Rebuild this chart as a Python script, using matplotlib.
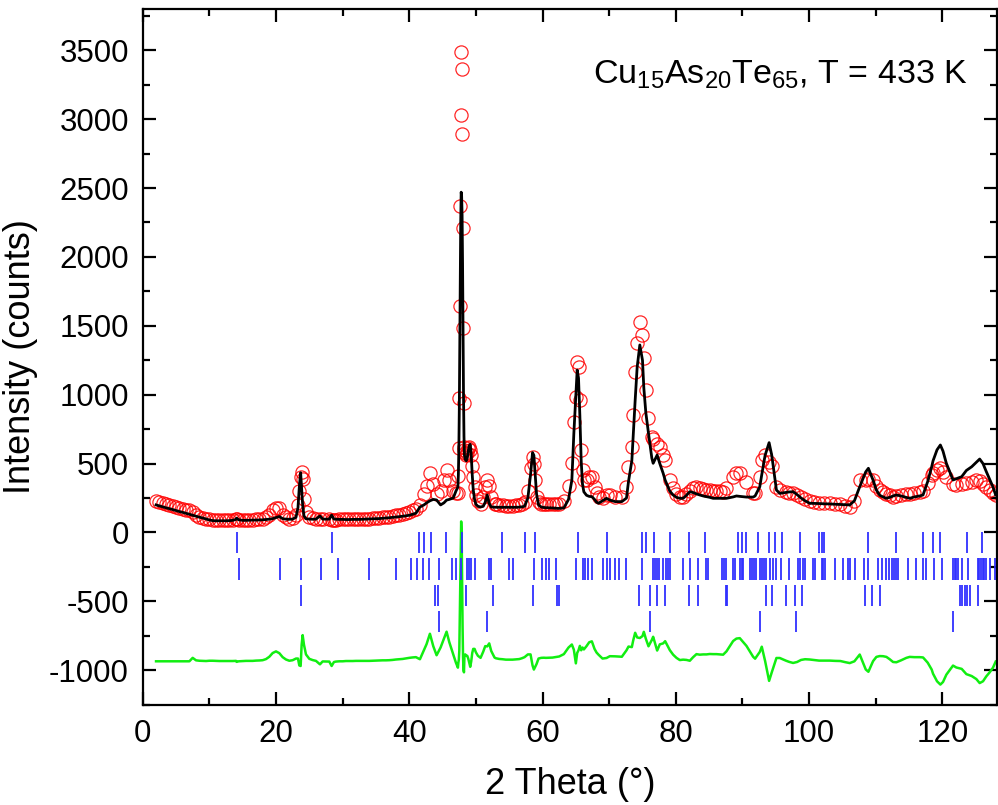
import numpy as np
import matplotlib
matplotlib.use("Agg")
import matplotlib.pyplot as plt
from matplotlib.ticker import MultipleLocator

plt.rcParams["font.family"] = ["Liberation Sans", "DejaVu Sans"]
plt.rcParams["mathtext.default"] = "regular"
plt.rcParams["axes.unicode_minus"] = False

# 2 theta (deg), observed counts, calculated counts
tth = [2.0, 2.5, 3.0, 3.5, 4.0, 4.5, 5.0, 5.5, 6.0, 6.5, 7.0, 7.5, 8.0, 8.5, 9.0, 9.5,
       10.0, 10.5, 11.0, 11.5, 12.0, 12.5, 13.0, 13.5, 14.0, 14.1, 14.4, 15.0, 15.5, 16.0,
       16.5, 17.0, 17.5, 18.0, 18.5, 19.0, 19.5, 20.0, 20.5, 21.0, 21.5, 22.0, 22.5, 23.0,
       23.3, 23.5, 23.7, 23.85, 24.0, 24.2, 24.5, 25.0, 25.5, 26.0, 26.6, 27.0, 28.0, 28.35,
       28.7, 29.0, 29.5, 30.0, 30.5, 31.0, 31.5, 32.0, 32.5, 33.0, 33.5, 34.0, 34.5, 35.0,
       35.5, 36.0, 36.5, 37.0, 37.5, 38.0, 38.5, 39.0, 39.5, 40.0, 40.5, 41.0, 41.6, 42.2,
       42.6, 43.1, 43.6, 44.1, 44.7, 45.2, 45.6, 46.0, 46.6, 47.0, 47.3, 47.37, 47.44, 47.51,
       47.58, 47.65, 47.72, 47.79, 47.86, 47.93, 48.0, 48.07, 48.14, 48.21, 48.28, 48.4,
       48.55, 48.7, 48.85, 49.0, 49.15, 49.3, 49.45, 49.6, 49.8, 50.0, 50.3, 50.7, 51.1,
       51.4, 51.7, 52.0, 52.3, 52.8, 53.0, 53.5, 54.0, 54.5, 55.0, 55.5, 56.0, 56.5, 56.9,
       57.3, 57.8, 58.2, 58.5, 58.7, 58.9, 59.1, 59.4, 59.8, 60.2, 60.5, 61.0, 61.5, 62.0,
       62.5, 63.2, 63.9, 64.4, 64.7, 65.0, 65.2, 65.4, 65.6, 65.8, 66.0, 66.2, 66.6, 67.0,
       67.4, 67.8, 68.1, 68.4, 69.0, 69.6, 70.1, 70.9, 71.9, 72.6, 72.9, 73.4, 73.6, 73.9,
       74.2, 74.6, 75.0, 75.2, 75.5, 75.9, 76.4, 76.6, 77.2, 77.6, 78.1, 78.4, 79.1, 79.6,
       80.1, 80.6, 81.1, 81.6, 82.1, 82.6, 83.1, 83.6, 84.1, 84.6, 85.1, 85.6, 86.1, 86.6,
       87.1, 87.6, 88.6, 89.1, 89.6, 90.6, 91.6, 91.9, 92.6, 92.9, 93.4, 94.0, 94.4, 95.1,
       95.6, 96.5, 97.0, 97.6, 98.2, 98.8, 99.4, 100.1, 100.8, 101.5, 102.3, 103.1, 103.9,
       104.7, 105.4, 106.1, 106.8, 107.6, 108.5, 108.9, 109.6, 110.1, 110.6, 111.1, 111.6,
       112.1, 112.6, 113.1, 113.8, 114.6, 115.1, 115.8, 116.6, 117.1, 117.8, 118.4, 118.6,
       119.2, 119.7, 120.1, 120.6, 121.6, 122.1, 122.9, 123.6, 124.4, 125.1, 125.6, 126.1,
       126.6, 127.1, 127.6, 128.0]

obs = [230, 222, 215, 208, 200, 193, 186, 178, 172, 165, 160, 150, 125, 115, 108, 100,
       95, 90, 88, 87, 87, 87, 88, 90, 98, 100, 92, 90, 91, 92,
       93, 95, 97, 100, 110, 130, 160, 180, 175, 130, 110, 100, 105, 130,
       200, 300, 400, 440, 390, 240, 150, 115, 105, 100, 98, 96, 95, 92,
       92, 94, 95, 95, 96, 96, 97, 98, 98, 99, 100, 101, 103, 105,
       107, 110, 112, 115, 120, 125, 130, 135, 142, 150, 160, 170, 200, 280,
       340, 430, 350, 280, 300, 380, 450, 380, 300, 290, 284, 410, 611, 978,
       1646, 2372, 3032, 3485, 3361, 2892, 2207, 1482, 937, 620, 600, 580,
       560, 580, 610, 620, 600, 560, 480, 400, 330, 270, 230, 210, 260,
       330, 380, 340, 260, 210, 205, 200, 198, 195, 195, 195, 197, 200, 208,
       220, 300, 470, 550, 500, 380, 260, 220, 210, 207, 205, 205, 205, 207,
       210, 230, 340, 502, 804, 985, 1240, 1200, 962, 600, 450, 381, 380, 400,
       405, 330, 284, 260, 250, 272, 272, 260, 257, 330, 477, 623, 850, 1167,
       1373, 1530, 1433, 1264, 1034, 829, 695, 680, 640, 623, 560, 526, 381, 320,
       280, 257, 260, 280, 300, 320, 332, 320, 315, 310, 308, 300, 300, 298,
       296, 320, 405, 430, 430, 369, 290, 284, 400, 526, 562, 510, 480, 332,
       308, 295, 290, 284, 270, 260, 245, 225, 220, 215, 213, 212, 208,
       205, 195, 187, 230, 381, 381, 390, 381, 340, 308, 295, 280,
       270, 260, 265, 272, 280, 280, 288, 295, 300, 360, 417, 430,
       455, 466, 440, 405, 350, 345, 350, 357, 370, 381, 375, 355,
       332, 305, 284, 270]

calc = [200, 193, 186, 179, 173, 166, 159, 152, 146, 139, 132, 125, 118, 111, 105, 98,
        91, 86, 85, 85, 85, 85, 86, 88, 95, 104, 92, 88, 88, 89,
        90, 90, 91, 92, 94, 97, 100, 108, 116, 100, 97, 96, 97, 110,
        180, 330, 434, 320, 200, 120, 100, 97, 96, 97, 120, 97, 97, 126,
        97, 96, 95, 95, 94, 94, 95, 95, 95, 96, 97, 98, 99, 100,
        101, 103, 105, 107, 110, 112, 115, 118, 121, 125, 132, 140, 185, 200,
        215, 230, 240, 236, 200, 215, 235, 240, 250, 300, 330, 420, 600, 900,
        1350, 1850, 2250, 2470, 2440, 2300, 1950, 1450, 1000, 700, 560, 530,
        520, 540, 590, 630, 640, 560, 420, 310, 240, 205, 190, 185, 190,
        220, 272, 210, 185, 183, 183, 183, 183, 183, 183, 183, 183, 184, 186,
        190, 250, 420, 580, 560, 420, 280, 200, 185, 181, 180, 179, 178, 176,
        175, 178, 240, 380, 720, 1000, 1179, 1120, 850, 520, 350, 295, 270, 262,
        260, 240, 220, 212, 230, 248, 235, 224, 224, 250, 370, 520, 700, 960,
        1200, 1361, 1250, 1050, 870, 720, 540, 502, 562, 500, 430, 380, 300, 272,
        255, 248, 248, 270, 296, 290, 280, 272, 265, 260, 255, 248, 248, 248,
        248, 248, 258, 265, 262, 257, 257, 265, 332, 420, 560, 652, 560, 308,
        284, 290, 294, 296, 275, 250, 230, 212, 211, 210, 208, 207, 205,
        203, 201, 200, 230, 332, 440, 466, 380, 308, 270, 258, 248,
        255, 265, 272, 265, 255, 248, 258, 265, 272, 370, 477, 520,
        600, 635, 590, 502, 381, 390, 405, 450, 477, 510, 533, 500,
        441, 385, 330, 272]

# reflection positions of the refined phases (deg)
phase_1 = [14.1, 28.4, 41.4, 42.2, 43.2, 45.5, 47.9, 53.9, 57.4, 58.8, 65.3, 69.6, 74.9,
           75.6, 76.7, 79.2, 82.0, 84.4, 89.4, 89.9, 90.6, 92.3, 94.0, 94.9, 95.9, 98.6,
           101.5, 101.9, 102.3, 108.9, 113.1, 117.1, 118.6, 119.6, 123.7, 126.0]
phase_2 = [14.4, 20.6, 23.8, 26.7, 29.3, 33.9, 38.0, 40.3, 41.2, 42.0, 42.9, 44.4, 46.4,
           47.0, 47.8, 48.6, 48.9, 49.3, 49.8, 51.9, 52.2, 54.9, 55.5, 58.7, 59.9, 60.5,
           60.9, 62.0, 65.0, 66.1, 66.4, 66.8, 67.4, 69.1, 69.7, 70.1, 70.8, 71.4, 72.5,
           75.0, 76.6, 76.9, 77.2, 77.5, 78.1, 78.5, 78.9, 79.1, 81.1, 82.1, 83.4, 84.6,
           84.8, 87.0, 87.3, 87.6, 88.6, 88.9, 89.6, 89.9, 90.1, 91.1, 91.5, 91.8, 92.1,
           92.6, 92.9, 93.2, 93.6, 94.2, 94.6, 95.1, 95.8, 97.0, 98.4, 98.7, 99.1, 99.4,
           100.6, 100.9, 101.9, 102.1, 102.4, 103.9, 105.1, 105.8, 106.1, 106.9, 108.2,
           108.9, 110.3, 111.0, 111.6, 112.0, 112.4, 112.7, 113.0, 113.4, 114.9, 116.0,
           117.1, 117.6, 118.7, 120.0, 121.6, 121.9, 122.1, 122.4, 123.0, 123.9, 125.3,
           125.5, 125.8, 126.1, 126.3, 126.6, 127.2, 127.9]
phase_3 = [23.8, 43.9, 44.3, 48.5, 52.6, 58.6, 62.1, 62.4, 74.5, 76.1, 77.2, 78.4, 82.0,
           83.3, 87.5, 87.7, 93.6, 94.5, 96.6, 97.9, 98.9, 108.4, 109.5, 110.7, 122.7,
           123.0, 123.4, 123.7, 124.1, 125.4]
phase_4 = [44.4, 51.7, 76.1, 92.6, 98.1, 121.6]

diff_offset = -935
excluded_below = 7.0

tth = np.array(tth)
obs = np.array(obs, dtype=float)
calc = np.array(calc, dtype=float)
diff = obs - calc
diff[tth <= excluded_below] = 0.0
diff = diff + diff_offset

fig = plt.figure(figsize=(9.98, 8.05), dpi=100)
ax = fig.add_axes([0.143, 0.1246, 0.856, 0.8643])

ax.plot(tth, obs, "o", mfc="none", mec="red", ms=9.5, mew=0.9, alpha=0.85, zorder=2)
ax.plot(tth, calc, "-", color="black", lw=2.0, zorder=3)
ax.plot(tth, diff, "-", color="#11ee11", lw=1.8, zorder=2)

tops = [5, -187, -379, -567]
for top, pos in zip(tops, [phase_1, phase_2, phase_3, phase_4]):
    ax.vlines(pos, top - 155, top, color="#3030ff", lw=1.3, zorder=2)

ax.set_xlim(0, 128.2)
ax.set_ylim(-1250, 3800)
ax.xaxis.set_major_locator(MultipleLocator(20))
ax.xaxis.set_minor_locator(MultipleLocator(10))
ax.yaxis.set_major_locator(MultipleLocator(500))
ax.yaxis.set_minor_locator(MultipleLocator(250))
ax.tick_params(which="both", direction="in", top=True, right=True, width=1.6,
               labelsize=22.5)
ax.tick_params(which="major", length=9.5, pad=10)
ax.tick_params(which="minor", length=5)
for sp in ax.spines.values():
    sp.set_linewidth(1.6)

ax.set_xlabel("2 Theta (°)", fontsize=26, labelpad=13)
ax.set_ylabel("Intensity (counts)", fontsize=26, labelpad=8)

ax.text(0.966, 0.893, "Cu$_{15}$As$_{20}$Te$_{65}$, T = 433 K", transform=ax.transAxes,
        ha="right", va="baseline", fontsize=24.5)

fig.savefig("out.png", dpi=100)
